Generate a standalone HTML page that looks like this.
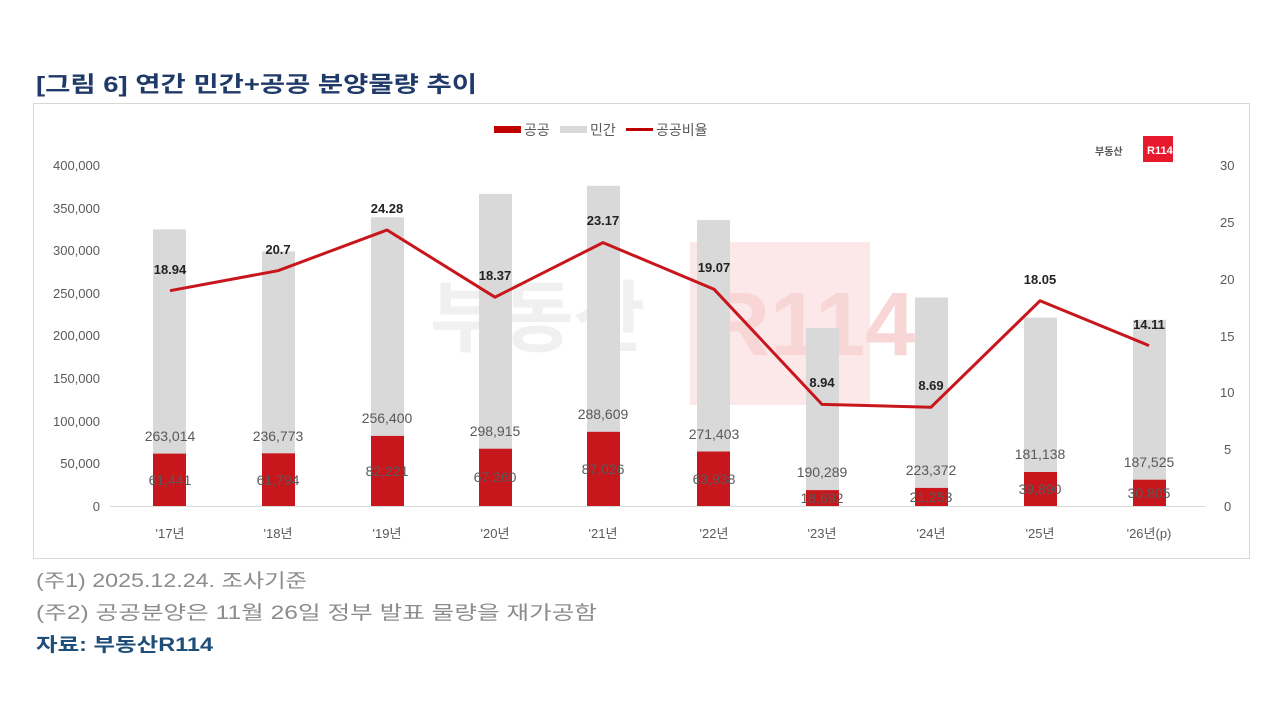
<!DOCTYPE html>
<html><head><meta charset="utf-8"><style>
body{margin:0;background:#fff;width:1280px;height:720px;overflow:hidden;font-family:"Liberation Sans","Noto Sans CJK KR",sans-serif;}
svg{position:absolute;left:0;top:0}
</style></head><body>
<svg width="1280" height="720" xmlns="http://www.w3.org/2000/svg" font-family="Liberation Sans, Noto Sans CJK KR, sans-serif">
<text x="36" y="92" font-size="22" font-weight="bold" fill="#1f3a68" textLength="441" lengthAdjust="spacingAndGlyphs">[그림 6] 연간 민간+공공 분양물량 추이</text>
<rect x="33.5" y="103.5" width="1216" height="455" fill="#fff" stroke="#d9d9d9"/>
<!-- watermark -->
<rect x="690" y="242" width="180" height="163" fill="#fce8e9"/>
<text x="430" y="345" font-size="78" font-weight="bold" fill="#f0f0f0">부동산</text>
<text x="705" y="355" font-size="90" font-weight="bold" fill="#f8d6d6">R114</text>
<!-- legend -->
<rect x="494" y="126" width="27" height="7" fill="#c00000"/>
<text x="524" y="135" font-size="14" fill="#595959">공공</text>
<rect x="560" y="126" width="27" height="7" fill="#d9d9d9"/>
<text x="590" y="135" font-size="14" fill="#595959">민간</text>
<rect x="626" y="128" width="27" height="3" fill="#c00000"/>
<text x="656" y="135" font-size="14" fill="#595959">공공비율</text>
<text x="1095" y="155" font-size="10" font-weight="bold" fill="#555">부동산</text>
<rect x="1143" y="136" width="30" height="26" fill="#e8192c"/>
<text x="1147" y="154" font-size="11" font-weight="bold" fill="#fff">R114</text>
<!-- axes -->
<g font-size="13" fill="#595959" text-anchor="end">
<text x="100" y="170">400,000</text><text x="100" y="213">350,000</text><text x="100" y="255">300,000</text><text x="100" y="298">250,000</text><text x="100" y="340">200,000</text><text x="100" y="383">150,000</text><text x="100" y="426">100,000</text><text x="100" y="468">50,000</text><text x="100" y="511">0</text>
</g>
<g font-size="13" fill="#595959" text-anchor="start">
<text x="1220" y="170">30</text><text x="1220" y="227">25</text><text x="1220" y="284">20</text><text x="1220" y="341">15</text><text x="1220" y="397">10</text><text x="1224" y="454">5</text><text x="1224" y="511">0</text>
</g>
<g fill="#d9d9d9">
<rect x="153" y="229.4" width="33" height="224.2"/>
<rect x="262" y="251.4" width="33" height="201.9"/>
<rect x="371" y="217.3" width="33" height="218.6"/>
<rect x="479" y="193.9" width="33" height="254.8"/>
<rect x="587" y="185.8" width="33" height="246"/>
<rect x="697" y="220.1" width="33" height="231.4"/>
<rect x="806" y="327.9" width="33" height="162.2"/>
<rect x="915" y="297.5" width="33" height="190.4"/>
<rect x="1024" y="317.6" width="33" height="154.4"/>
<rect x="1133" y="319.8" width="33" height="159.9"/>
</g>
<g fill="#c8161d">
<rect x="153" y="453.6" width="33" height="52.4"/>
<rect x="262" y="453.3" width="33" height="52.7"/>
<rect x="371" y="435.9" width="33" height="70.1"/>
<rect x="479" y="448.7" width="33" height="57.3"/>
<rect x="587" y="431.8" width="33" height="74.2"/>
<rect x="697" y="451.5" width="33" height="54.5"/>
<rect x="806" y="490.1" width="33" height="15.9"/>
<rect x="915" y="487.9" width="33" height="18.1"/>
<rect x="1024" y="472" width="33" height="34"/>
<rect x="1133" y="479.7" width="33" height="26.3"/>
</g>
<line x1="110" y1="506.5" x2="1205" y2="506.5" stroke="#d9d9d9"/>
<g font-size="14" fill="#595959" text-anchor="middle">
<text x="170" y="441">263,014</text><text x="278" y="441">236,773</text><text x="387" y="423">256,400</text><text x="495" y="436">298,915</text><text x="603" y="419">288,609</text><text x="714" y="439">271,403</text><text x="822" y="477">190,289</text><text x="931" y="475">223,372</text><text x="1040" y="459">181,138</text><text x="1149" y="467">187,525</text>
<text x="170" y="485">61,441</text><text x="278" y="485">61,794</text><text x="387" y="476">82,221</text><text x="495" y="482">67,260</text><text x="603" y="474">87,026</text><text x="714" y="484">63,938</text><text x="822" y="503">18,692</text><text x="931" y="502">21,253</text><text x="1040" y="494">39,890</text><text x="1149" y="498">30,805</text>
</g>
<g font-size="13" fill="#595959" text-anchor="middle">
<text x="170" y="538">'17년</text><text x="278" y="538">'18년</text><text x="387" y="538">'19년</text><text x="495" y="538">'20년</text><text x="603" y="538">'21년</text><text x="714" y="538">'22년</text><text x="822" y="538">'23년</text><text x="931" y="538">'24년</text><text x="1040" y="538">'25년</text><text x="1149" y="538">'26년(p)</text>
</g>
<polyline fill="none" stroke="#c8161d" stroke-width="3" stroke-linejoin="round" points="170,290.7 278,270.7 387,230 495,297.2 603,242.6 714,289.2 822,404.4 931,407.2 1040,300.8 1149,345.6"/>
<g font-size="13" font-weight="bold" fill="#222" text-anchor="middle">
<text x="170" y="274">18.94</text><text x="278" y="254">20.7</text><text x="387" y="213">24.28</text><text x="495" y="280">18.37</text><text x="603" y="225">23.17</text><text x="714" y="272">19.07</text><text x="822" y="387">8.94</text><text x="931" y="390">8.69</text><text x="1040" y="284">18.05</text><text x="1149" y="329">14.11</text>
</g>
<text x="36" y="587" font-size="19" fill="#8c8c8c" textLength="271" lengthAdjust="spacingAndGlyphs">(주1) 2025.12.24. 조사기준</text>
<text x="36" y="619" font-size="19" fill="#8c8c8c" textLength="561" lengthAdjust="spacingAndGlyphs">(주2) 공공분양은 11월 26일 정부 발표 물량을 재가공함</text>
<text x="36" y="651" font-size="19" font-weight="bold" fill="#1f4e79" textLength="177" lengthAdjust="spacingAndGlyphs">자료: 부동산R114</text>
</svg>
</body></html>
